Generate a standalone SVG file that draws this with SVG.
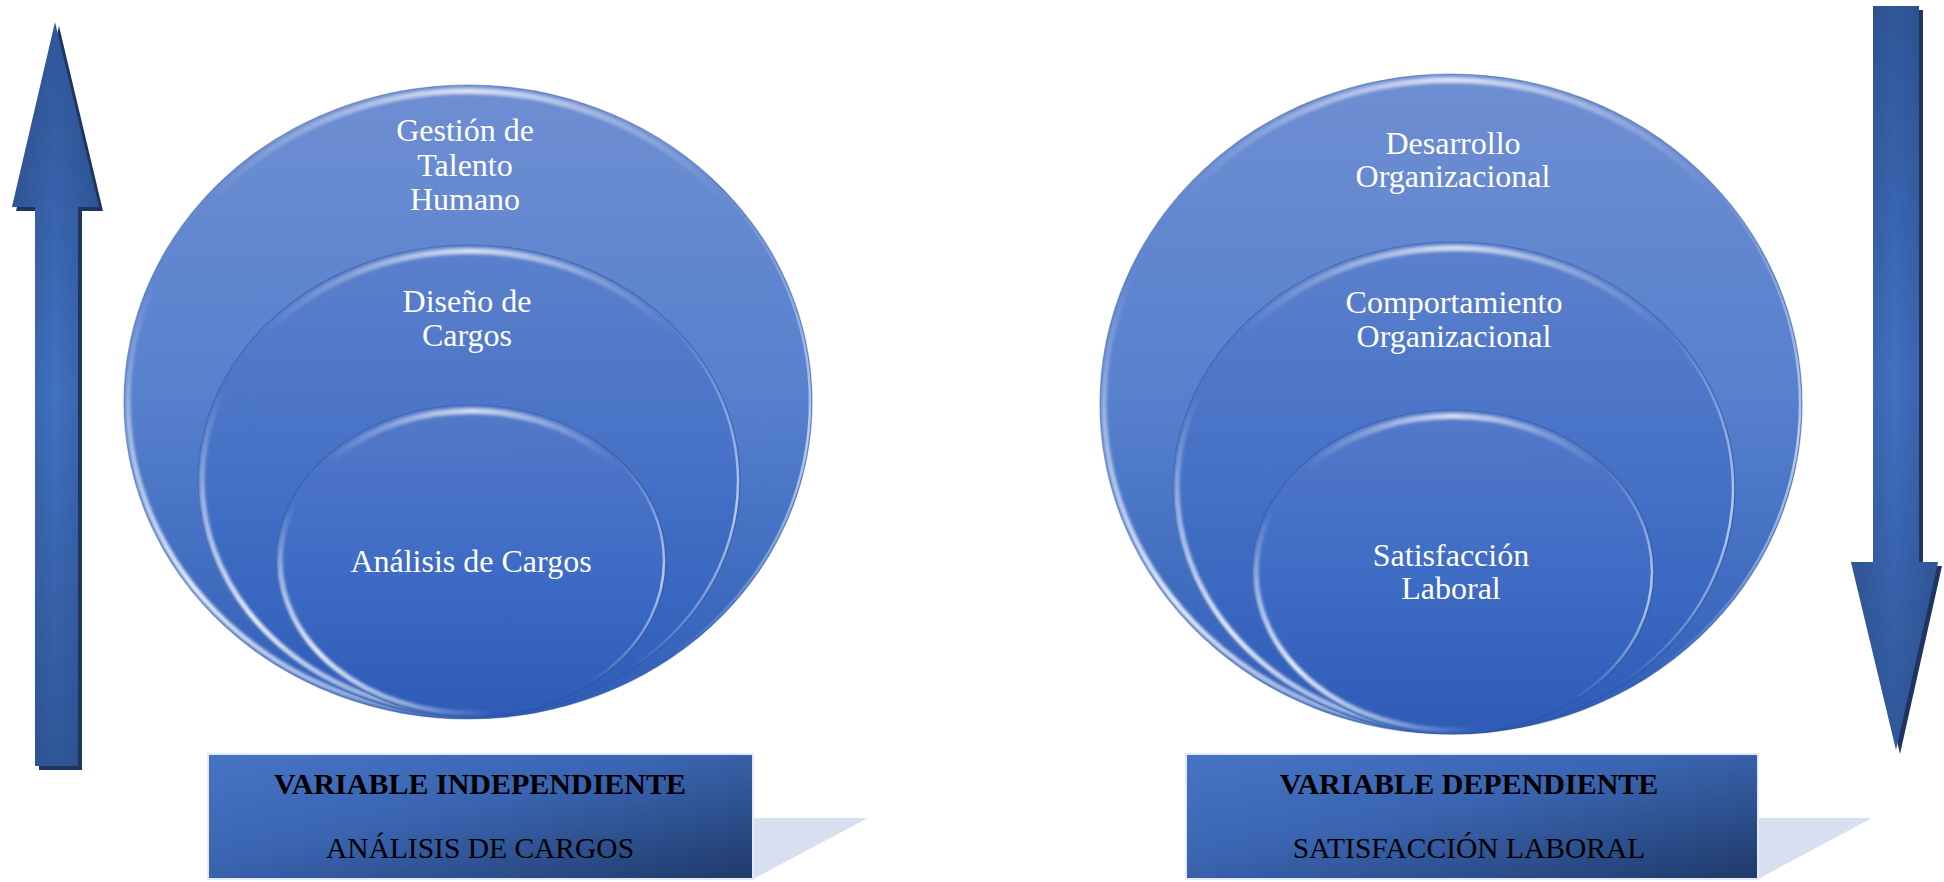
<svg xmlns="http://www.w3.org/2000/svg" width="1944" height="882" viewBox="0 0 1944 882">
  <defs>
    <linearGradient id="gOuter" x1="0" y1="0" x2="0" y2="1">
      <stop offset="0" stop-color="#6f8ed2"/>
      <stop offset="0.5" stop-color="#5680cd"/>
      <stop offset="1" stop-color="#2f5db6"/>
    </linearGradient>
    <linearGradient id="gMid" x1="0" y1="0" x2="0" y2="1">
      <stop offset="0" stop-color="#5c80cc"/>
      <stop offset="0.5" stop-color="#4470c6"/>
      <stop offset="1" stop-color="#2e5cb7"/>
    </linearGradient>
    <linearGradient id="gInner" x1="0" y1="0" x2="0" y2="1">
      <stop offset="0" stop-color="#5479c9"/>
      <stop offset="0.5" stop-color="#3f6cc5"/>
      <stop offset="1" stop-color="#2d5bb6"/>
    </linearGradient>
    <!-- glossy top highlight on each disc -->
    <radialGradient id="gShine" cx="0.5" cy="0" r="0.42">
      <stop offset="0" stop-color="#ffffff" stop-opacity="0.75"/>
      <stop offset="0.55" stop-color="#ffffff" stop-opacity="0.3"/>
      <stop offset="1" stop-color="#ffffff" stop-opacity="0"/>
    </radialGradient>
    <!-- light rim along the lower left edge -->
    <radialGradient id="gRim" cx="0.1" cy="0.8" r="0.5">
      <stop offset="0" stop-color="#eef3fd" stop-opacity="1"/>
      <stop offset="0.55" stop-color="#cddaf4" stop-opacity="0.7"/>
      <stop offset="1" stop-color="#cddaf4" stop-opacity="0"/>
    </radialGradient>
    <!-- faint light rim along the right edge -->
    <radialGradient id="gRimR" cx="0.98" cy="0.55" r="0.4">
      <stop offset="0" stop-color="#d8e3f8" stop-opacity="0.8"/>
      <stop offset="1" stop-color="#d8e3f8" stop-opacity="0"/>
    </radialGradient>
    <filter id="soft" x="-5%" y="-5%" width="110%" height="110%">
      <feGaussianBlur stdDeviation="1.4"/>
    </filter>
    <linearGradient id="gArrowV" x1="0" y1="0" x2="0" y2="1">
      <stop offset="0" stop-color="#30579a"/>
      <stop offset="0.5" stop-color="#4171c2"/>
      <stop offset="1" stop-color="#30579a"/>
    </linearGradient>
    <linearGradient id="gArrowH" x1="0" y1="0" x2="1" y2="0">
      <stop offset="0" stop-color="#1f3864" stop-opacity="0.35"/>
      <stop offset="0.5" stop-color="#1f3864" stop-opacity="0"/>
      <stop offset="1" stop-color="#1f3864" stop-opacity="0.35"/>
    </linearGradient>
    <linearGradient id="gBox" x1="0" y1="0" x2="1" y2="1">
      <stop offset="0" stop-color="#4674c6"/>
      <stop offset="0.45" stop-color="#3a64b0"/>
      <stop offset="1" stop-color="#1f3a6a"/>
    </linearGradient>
    <style>
      .label { font-family: "Liberation Serif", "Times New Roman", serif; font-size: 32px; fill: #ffffff; text-anchor: middle; }
      .boxhead { font-family: "Liberation Serif", "Times New Roman", serif; font-size: 30px; font-weight: bold; fill: #000000; text-anchor: middle; }
      .boxtext { font-family: "Liberation Serif", "Times New Roman", serif; font-size: 29.5px; fill: #000000; text-anchor: middle; }
      .edge { stroke: #2d4f93; stroke-opacity: 0.45; stroke-width: 1.2; }
      .shine { fill: none; stroke: url(#gShine); stroke-width: 6; filter: url(#soft); }
      .rim { fill: none; stroke: url(#gRim); stroke-width: 5; filter: url(#soft); }
      .rimr { fill: none; stroke: url(#gRimR); stroke-width: 2.5; }
      .shadow { fill: #1f3560; }
      .fold { fill: #d7e0f1; }
      .box { fill: url(#gBox); stroke: #e3e9f5; stroke-width: 2; }
    </style>
  </defs>

  <rect width="1944" height="882" fill="#ffffff"/>

  <!-- vertical arrows -->
  <g id="connectors">
    <g id="arrow-up">
      <polygon class="shadow" points="59,26 103,211 82,211 82,770 39,770 39,211 16,211"/>
      <polygon fill="url(#gArrowV)" points="55,22 99,207 78,207 78,766 35,766 35,207 12,207"/>
      <polygon fill="url(#gArrowH)" points="55,22 99,207 78,207 78,766 35,766 35,207 12,207"/>
    </g>
    <g id="arrow-down">
      <polygon class="shadow" points="1877,10 1923,10 1923,566 1942,566 1900,754 1855,566 1877,566"/>
      <polygon fill="url(#gArrowV)" points="1873,6 1919,6 1919,562 1938,562 1896,750 1851,562 1873,562"/>
      <polygon fill="url(#gArrowH)" points="1873,6 1919,6 1919,562 1938,562 1896,750 1851,562 1873,562"/>
    </g>
  </g>

  <!-- left stack -->
  <g id="gestion-talento-humano">
    <ellipse class="edge" cx="468" cy="402" rx="344" ry="317" fill="url(#gOuter)"/>
    <ellipse class="rimr" cx="468" cy="402" rx="342" ry="315"/>
    <ellipse class="rim" cx="468" cy="402" rx="340" ry="313"/>
    <ellipse class="shine" cx="468" cy="403" rx="339" ry="312"/>
    <text class="label" x="465" y="141">Gestión de</text>
    <text class="label" x="465" y="176">Talento</text>
    <text class="label" x="465" y="210">Humano</text>
  </g>
  <g id="diseno-cargos">
    <ellipse class="edge" cx="469" cy="481" rx="271" ry="236" fill="url(#gMid)"/>
    <ellipse class="rimr" cx="469" cy="481" rx="269" ry="234"/>
    <ellipse class="rim" cx="469" cy="481" rx="267" ry="232"/>
    <ellipse class="shine" cx="469" cy="482" rx="266" ry="231"/>
    <text class="label" x="467" y="312">Diseño de</text>
    <text class="label" x="467" y="346">Cargos</text>
  </g>
  <g id="analisis-cargos">
    <ellipse class="edge" cx="471" cy="561" rx="195" ry="156" fill="url(#gInner)"/>
    <ellipse class="rimr" cx="471" cy="561" rx="193" ry="154"/>
    <ellipse class="rim" cx="471" cy="561" rx="191" ry="152"/>
    <ellipse class="shine" cx="471" cy="562" rx="190" ry="151"/>
    <text class="label" x="471" y="572">Análisis de Cargos</text>
  </g>

  <!-- right stack -->
  <g id="desarrollo-organizacional">
    <ellipse class="edge" cx="1451" cy="404" rx="351" ry="330" fill="url(#gOuter)"/>
    <ellipse class="rimr" cx="1451" cy="404" rx="349" ry="328"/>
    <ellipse class="rim" cx="1451" cy="404" rx="347" ry="326"/>
    <ellipse class="shine" cx="1451" cy="405" rx="346" ry="325"/>
    <text class="label" x="1453" y="154">Desarrollo</text>
    <text class="label" x="1453" y="187">Organizacional</text>
  </g>
  <g id="comportamiento-organizacional">
    <ellipse class="edge" cx="1454" cy="488" rx="281" ry="246" fill="url(#gMid)"/>
    <ellipse class="rimr" cx="1454" cy="488" rx="279" ry="244"/>
    <ellipse class="rim" cx="1454" cy="488" rx="277" ry="242"/>
    <ellipse class="shine" cx="1454" cy="489" rx="276" ry="241"/>
    <text class="label" x="1454" y="313">Comportamiento</text>
    <text class="label" x="1454" y="347">Organizacional</text>
  </g>
  <g id="satisfaccion-laboral">
    <ellipse class="edge" cx="1453" cy="572" rx="201" ry="162" fill="url(#gInner)"/>
    <ellipse class="rimr" cx="1453" cy="572" rx="199" ry="160"/>
    <ellipse class="rim" cx="1453" cy="572" rx="197" ry="158"/>
    <ellipse class="shine" cx="1453" cy="573" rx="196" ry="157"/>
    <text class="label" x="1451" y="566">Satisfacción</text>
    <text class="label" x="1451" y="599">Laboral</text>
  </g>

  <!-- variable captions -->
  <g id="variable-independiente">
    <polygon class="fold" points="753,818 868,818 753,879"/>
    <rect class="box" x="208" y="754" width="545" height="125"/>
    <text class="boxhead" x="480" y="794">VARIABLE INDEPENDIENTE</text>
    <text class="boxtext" x="480" y="858">ANÁLISIS DE CARGOS</text>
  </g>
  <g id="variable-dependiente">
    <polygon class="fold" points="1758,818 1872,818 1758,879"/>
    <rect class="box" x="1186" y="754" width="572" height="125"/>
    <text class="boxhead" x="1469" y="794">VARIABLE DEPENDIENTE</text>
    <text class="boxtext" x="1469" y="858">SATISFACCIÓN LABORAL</text>
  </g>
</svg>
